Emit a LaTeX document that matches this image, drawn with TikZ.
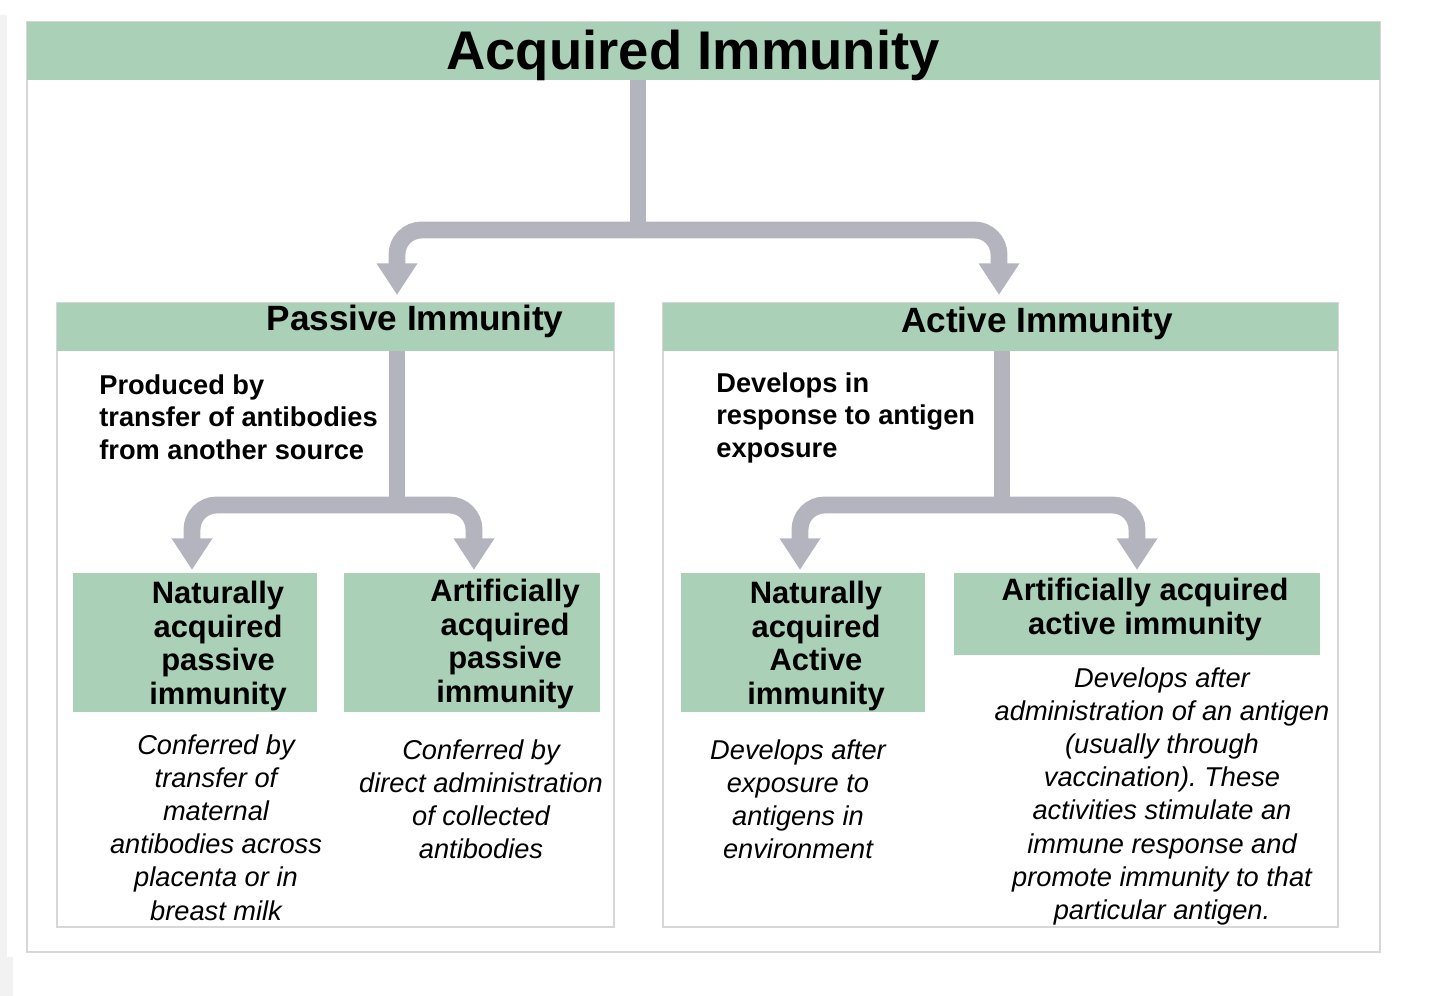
\documentclass[tikz,border=0pt]{standalone}
\usepackage{fontspec}
\setmainfont{Liberation Sans}
\usepackage{tikz}
\usetikzlibrary{arrows.meta,fit}
\definecolor{barGreen}{RGB}{170,208,183}
\definecolor{flowGray}{RGB}{180,180,190}
\definecolor{panelGray}{RGB}{215,215,215}
\frenchspacing

\tikzset{
  panel/.style={draw=panelGray, line width=1.2pt, inner sep=0pt},
  greenbar/.style={fill=barGreen, inner sep=0pt},
  flowline/.style={draw=flowGray, line width=9.6pt},
  flow/.style={flowline, rounded corners=14pt, -{Triangle[width=22pt,length=18pt]}},
  headtext/.style={font=\bfseries\fontsize{20}{24}\selectfont, inner sep=0pt, anchor=base},
  kindtext/.style={font=\bfseries\fontsize{17.6}{19.1}\selectfont, align=center, inner sep=0pt, anchor=north},
  notetext/.style={font=\bfseries\fontsize{15.5}{18.7}\selectfont, align=left, inner sep=0pt, anchor=north west},
  desctext/.style={font=\itshape\fontsize{15.5}{18.9}\selectfont, align=center, inner sep=0pt, anchor=north},
}

\begin{document}
\begin{tikzpicture}[x=0.02cm, y=-0.02cm]
    \useasboundingbox (0,0) rectangle (1440,996);
    \fill[gray!10] (0,15) rectangle (7,957);
    \fill[gray!10] (0,957) rectangle (13,996);

    % Outer frame and title
    \node[panel, fit={(27,22) (1380,952)}] (outer) {};
    \node[greenbar, fit={(27,22) (1380,80)}] (titlebar) {};
    \node[font=\bfseries\fontsize{31}{36}\selectfont, inner sep=0pt, anchor=base] (title) at (693,70) {Acquired Immunity};

    % Two branches
    \node[panel, fit={(57,303) (614,927)}] (passbox) {};
    \node[greenbar, fit={(57,303) (614,351)}] (passhead) {};
    \node[headtext] (passtitle) at (415,331) {Passive Immunity};
    \node[panel, fit={(663,303) (1338,927)}] (actbox) {};
    \node[greenbar, fit={(663,303) (1338,351)}] (acthead) {};
    \node[headtext] (acttitle) at (1037,333) {Active Immunity};

    \coordinate (topfork) at (638,230);
    \coordinate (passtip) at (397,295);
    \coordinate (acttip) at (999,295);
    \draw[flowline] (titlebar.south -| topfork) -- (topfork);
    \draw[flow] (topfork) -| (passtip);
    \draw[flow] (topfork) -| (acttip);

    % Passive immunity
    \node[notetext] (passnote) at (99,374) {Produced by\\transfer of antibodies\\from another source};
    \coordinate (passfork) at (397,505);
    \coordinate (natpasstip) at (192,570);
    \coordinate (artpasstip) at (474,570);
    \draw[flowline] (passhead.south -| passfork) -- (passfork);
    \draw[flow] (passfork) -| (natpasstip);
    \draw[flow] (passfork) -| (artpasstip);

    \node[greenbar, fit={(73,573) (317,712)}] (natpass) {};
    \node[greenbar, fit={(344,573) (600,712)}] (artpass) {};
    \node[kindtext] (natpasstext) at (218,581) {Naturally\\acquired\\passive\\immunity};
    \node[kindtext] (artpasstext) at (505,579) {Artificially\\acquired\\passive\\immunity};
    \node[desctext] (natpassdesc) at (216,734) {Conferred by\\transfer of\\maternal\\antibodies across\\placenta or in\\breast milk};
    \node[desctext] (artpassdesc) at (481,739) {Conferred by\\direct administration\\of collected\\antibodies};

    % Active immunity
    \node[notetext] (actnote) at (716,372) {Develops in\\response to antigen\\exposure};
    \coordinate (actfork) at (1002,505);
    \coordinate (natacttip) at (800,570);
    \coordinate (artacttip) at (1137,570);
    \draw[flowline] (acthead.south -| actfork) -- (actfork);
    \draw[flow] (actfork) -| (natacttip);
    \draw[flow] (actfork) -| (artacttip);

    \node[greenbar, fit={(681,573) (925,712)}] (natact) {};
    \node[greenbar, fit={(954,573) (1320,655)}] (artact) {};
    \node[kindtext] (natacttext) at (816,581) {Naturally\\acquired\\Active\\immunity};
    \node[kindtext] (artacttext) at (1145,578) {Artificially acquired\\active immunity};
    \node[desctext] (natactdesc) at (798,739) {Develops after\\exposure to\\antigens in\\environment};
    \node[desctext] (artactdesc) at (1162,667) {Develops after\\administration of an antigen\\(usually through\\vaccination). These\\activities stimulate an\\immune response and\\promote immunity to that\\particular antigen.};
\end{tikzpicture}
\end{document}
